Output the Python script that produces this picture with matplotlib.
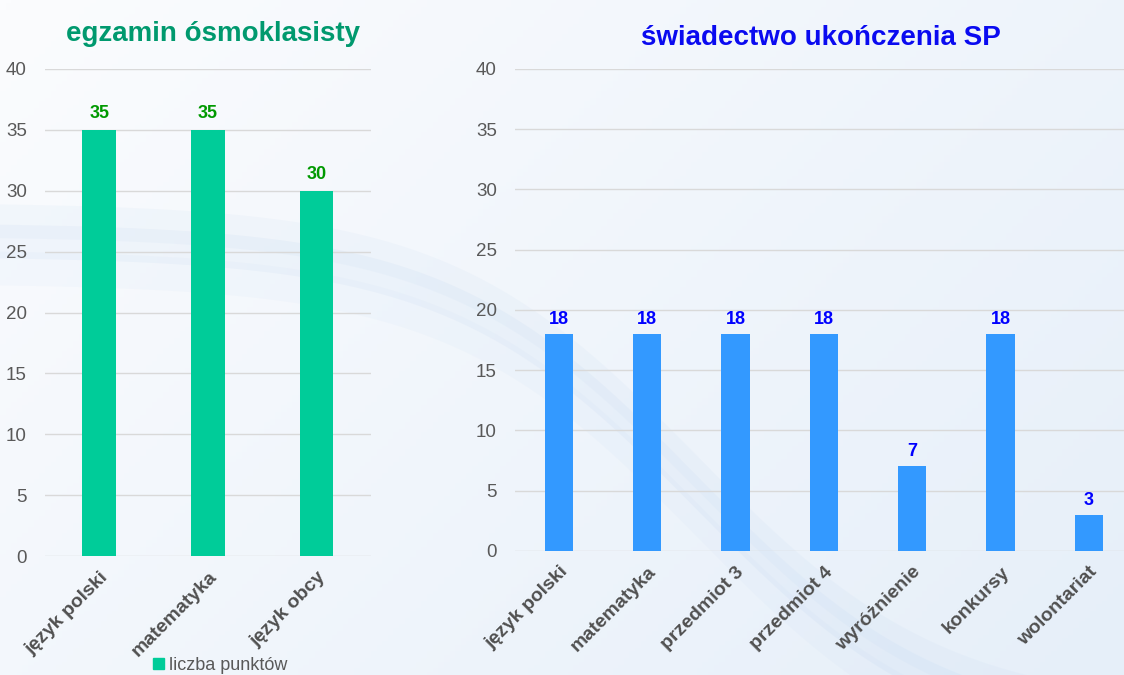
import numpy as np
import matplotlib.pyplot as plt
from matplotlib.patches import Patch
from matplotlib.colors import LinearSegmentedColormap

# dane
exam_labels = ['język polski', 'matematyka', 'język obcy']
exam_points = [35, 35, 30]

cert_labels = ['język polski', 'matematyka', 'przedmiot 3', 'przedmiot 4',
               'wyróżnienie', 'konkursy', 'wolontariat']
cert_points = [18, 18, 18, 18, 7, 18, 3]

y_ticks = [0, 5, 10, 15, 20, 25, 30, 35, 40]

plt.rcParams['font.family'] = ['Liberation Sans', 'DejaVu Sans']

fig = plt.figure(figsize=(11.24, 6.75), dpi=100)

# tło z lekkim gradientem i falami
bg = fig.add_axes([0, 0, 1, 1], zorder=-10)
gx = np.linspace(0, 1, 200)
GX, GY = np.meshgrid(gx, gx)
grad = 0.5 * GX + 0.3 * (1 - GY)
cmap = LinearSegmentedColormap.from_list('bg', ['#FBFCFE', '#E6EFF9'])
bg.imshow(grad, cmap=cmap, aspect='auto', extent=[0, 1, 0, 1], origin='lower')
t = np.linspace(0, 1, 300)
for off, a in [(0.0, 0.10), (0.03, 0.08), (-0.04, 0.06)]:
    base = 0.62 + off - 0.75 * (1 / (1 + np.exp(-(t - 0.62) * 9)))
    bg.fill_between(t, base, base + 0.05, color='#A9C8EC', alpha=a, lw=0)
bg.set_xlim(0, 1)
bg.set_ylim(0, 1)
bg.axis('off')


def style_axes(ax):
    for s in ax.spines.values():
        s.set_visible(False)
    ax.set_facecolor('none')
    ax.set_ylim(0, 40)
    ax.set_yticks(y_ticks)
    ax.yaxis.grid(True, color='#D9D9D9', linewidth=1)
    ax.set_axisbelow(True)
    ax.tick_params(axis='both', length=0)
    ax.tick_params(axis='y', labelsize=13.5, labelcolor='#595959', pad=13)
    ax.tick_params(axis='x', pad=9)


# lewy wykres
ax1 = fig.add_axes([0.040, 0.176, 0.290, 0.722])
style_axes(ax1)
x1 = np.arange(len(exam_labels))
bars1 = ax1.bar(x1, exam_points, width=0.31, color='#00CC99')
ax1.set_xlim(-0.5, len(exam_labels) - 0.5)
ax1.set_xticks(x1)
ax1.set_xticklabels(exam_labels, rotation=45, ha='right', rotation_mode='anchor',
                    fontsize=14, fontweight='bold', color='#505050')
for b, v in zip(bars1, exam_points):
    ax1.text(b.get_x() + b.get_width() / 2, v + 0.6, str(v), ha='center', va='bottom',
             fontsize=13, fontweight='bold', color='#009900')
ax1.set_title('egzamin ósmoklasisty', fontsize=20, fontweight='bold',
              color='#00996E', pad=20, x=0.515)
ax1.legend(handles=[Patch(color='#00CC99', label='liczba punktów')],
           loc='center', bbox_to_anchor=(0.537, -0.224), frameon=False,
           fontsize=13, handlelength=0.6, handleheight=0.6, handletextpad=0.3,
           labelcolor='#595959')

# prawy wykres
ax2 = fig.add_axes([0.458, 0.184, 0.550, 0.714])
style_axes(ax2)
x2 = np.arange(len(cert_labels))
bars2 = ax2.bar(x2, cert_points, width=0.32, color='#3399FF')
ax2.set_xlim(-0.5, len(cert_labels) - 0.5)
ax2.set_xticks(x2)
ax2.set_xticklabels(cert_labels, rotation=45, ha='right', rotation_mode='anchor',
                    fontsize=14, fontweight='bold', color='#505050')
for b, v in zip(bars2, cert_points):
    ax2.text(b.get_x() + b.get_width() / 2, v + 0.5, str(v), ha='center', va='bottom',
             fontsize=13, fontweight='bold', color='#0000FF')
fig.text(0.73, 0.944, 'świadectwo ukończenia SP', ha='center', va='center',
         fontsize=20, fontweight='bold', color='#0A0AF0')

fig.savefig('out.png', dpi=100)
